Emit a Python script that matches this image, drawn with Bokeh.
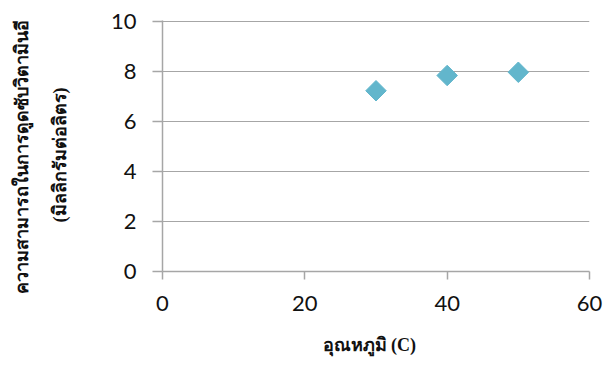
import math
from bokeh.plotting import figure
from bokeh.models import Range1d, FixedTicker
from bokeh.embed import file_html
from bokeh.resources import INLINE

# Vitamin E adsorption capacity vs temperature
temperature = [30, 40, 50]
capacity = [7.23, 7.84, 7.97]
x_ticks = [0, 20, 40, 60]
y_ticks = [0, 2, 4, 6, 8, 10]

x_title = "อุณหภูมิ (C)"
y_title_1 = "ความสามารถในการดูดซับวิตามินอี"
y_title_2 = "(มิลลิกรัมต่อลิตร)"

GRID = "#a6a6a6"
TICK_FONT = "Lato"
TITLE_FONT = "Liberation Serif"
NBSP = "\u00a0"

p = figure(width=604, height=367, output_backend="svg", toolbar_location=None,
           x_range=Range1d(0, 60), y_range=Range1d(0, 10.04),
           min_border_left=162, min_border_right=15,
           min_border_top=20, min_border_bottom=96)
p.outline_line_color = None
p.background_fill_color = "white"
p.border_fill_color = "white"

p.xgrid.grid_line_color = None
p.ygrid.grid_line_color = GRID
p.ygrid.grid_line_width = 1.2

for ax in (p.xaxis, p.yaxis):
    ax.axis_line_color = GRID
    ax.axis_line_width = 1.5
    ax.major_tick_line_color = GRID
    ax.major_tick_line_width = 1.5
    ax.major_tick_in = 0
    ax.minor_tick_line_color = None
    ax.major_label_text_font = TICK_FONT
    ax.major_label_text_font_size = "22px"
    ax.major_label_text_color = "#111111"
    ax.axis_label_text_font = TITLE_FONT
    ax.axis_label_text_font_style = "bold"
    ax.axis_label_text_font_size = "18px"
    ax.axis_label_text_color = "#111111"

p.xaxis.ticker = FixedTicker(ticks=x_ticks)
p.yaxis.ticker = FixedTicker(ticks=y_ticks)
p.xaxis.major_tick_out = 8
p.yaxis.major_tick_out = 10
p.xaxis.major_label_standoff = 16
p.yaxis.major_label_standoff = 16

# trailing no-break spaces nudge the centred titles toward their start
p.xaxis.axis_label = x_title + NBSP * 3
p.xaxis.axis_label_standoff = 21
p.yaxis.axis_label = y_title_1 + NBSP * 5 + "\n" + y_title_2 + NBSP * 4
p.yaxis.axis_label_standoff = 38
p.yaxis.axis_label_text_line_height = 1.9

p.scatter(temperature, capacity, marker="square", size=14.5, angle=math.pi / 4,
          fill_color="#62b6cc", line_color="#62b6cc")

open("out.html", "w").write(file_html(p, INLINE))
